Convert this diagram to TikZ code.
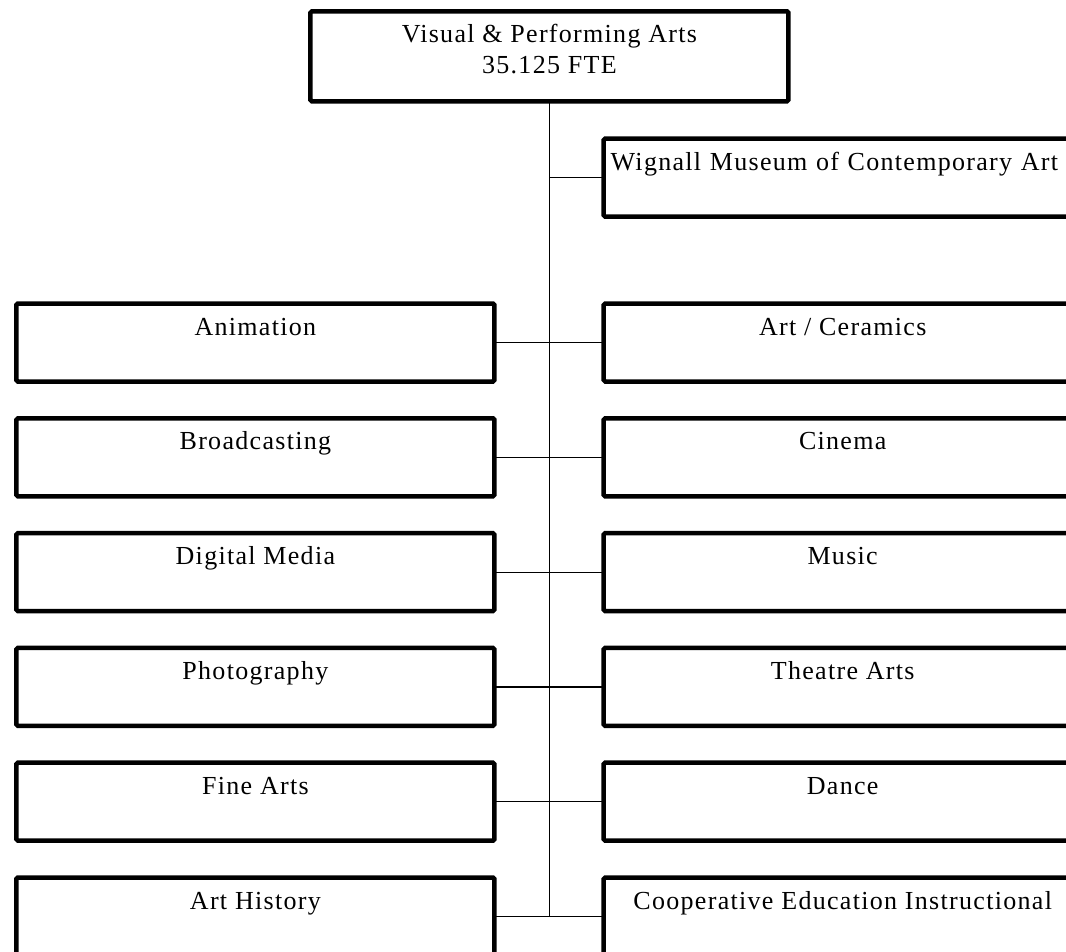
\documentclass[tikz,border=0pt]{standalone}
\usepackage{fontspec}
\setmainfont{Liberation Serif}[LetterSpace=5]
\usetikzlibrary{positioning}

\begin{document}
\begin{tikzpicture}[x=1pt, y=-1pt,
    unitbox/.style={draw, line width=4.5pt, rounded corners=1.5pt, inner sep=0pt, outer sep=0pt,
      minimum width=478pt, text height=31.5pt, text depth=46.5pt,
      font=\fontsize{26pt}{31pt}\selectfont},
    deanbox/.style={unitbox, align=center, text height=62.4pt, text depth=27.6pt},
    conn/.style={line width=1.2pt}]
    % page frame, the right column and the last row run off the page
    \useasboundingbox (0,0) rectangle (1066,951);
    \clip (0,0) rectangle (1066,951);

    % Division at the top
    \node[deanbox] (vpa) at (549.4,56.3) {Visual \& Performing Arts\\35.125 FTE};

    % Museum sits alone on the right, its long name set flush left
    \node[unitbox, text width=464pt, align=left] (wignall) at (842.7,177.7) {Wignall Museum of Contemporary Art};

    % Left column of departments
    \node[unitbox] (anim)  at (255.4,342.5) {Animation};
    \node[unitbox] (broad) at (255.4,457.3) {Broadcasting};
    \node[unitbox] (digi)  at (255.4,572.1) {Digital Media};
    \node[unitbox] (photo) at (255.4,686.9) {Photography};
    \node[unitbox] (fine)  at (255.4,801.7) {Fine Arts};
    \node[unitbox] (hist)  at (255.4,916.5) {Art History};

    % Right column of departments
    \node[unitbox] (ceram) at (842.7,342.5) {Art / Ceramics};
    \node[unitbox] (cine)  at (842.7,457.3) {Cinema};
    \node[unitbox] (music) at (842.7,572.1) {Music};
    \node[unitbox] (theat) at (842.7,686.9) {Theatre Arts};
    \node[unitbox] (dance) at (842.7,801.7) {Dance};
    \node[unitbox] (coop)  at (842.7,916.5) {Cooperative Education Instructional};

    % Trunk down from the division, ending at the last row
    \coordinate (trunkend) at (hist.east -| vpa.south);
    \draw[conn] (vpa.south) -- (trunkend);

    % Branches, each row crosses the trunk
    \draw[conn] (wignall.west) -- (wignall.west -| vpa.south);
    \draw[conn] (anim.east)  -- (ceram.west);
    \draw[conn] (broad.east) -- (cine.west);
    \draw[conn] (digi.east)  -- (music.west);
    \draw[conn] (photo.east) -- (theat.west);
    \draw[conn] (fine.east)  -- (dance.west);
    \draw[conn] (hist.east)  -- (coop.west);
\end{tikzpicture}
\end{document}
